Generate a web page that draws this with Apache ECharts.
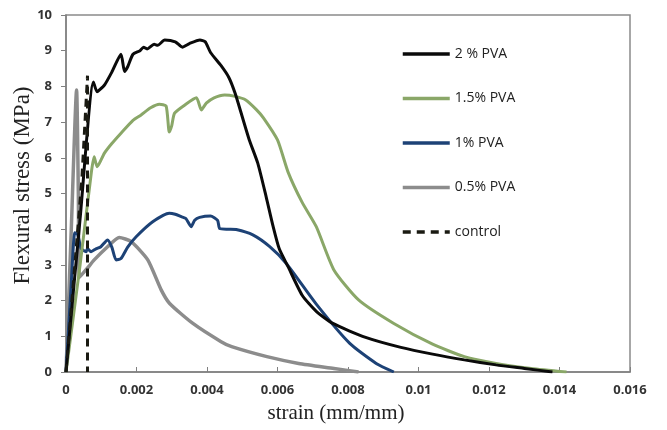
<!DOCTYPE html>
<html><head><meta charset="utf-8">
<script src="https://cdn.jsdelivr.net/npm/echarts@6/dist/echarts.min.js"></script>
<style>html,body{margin:0;padding:0;background:#fff}#c{width:667px;height:430px}</style>
</head><body><div id="c"></div>
<script>
const seriesNames = ['2 % PVA','1.5% PVA','1% PVA','0.5% PVA','control'];
const xTicks = [0,0.002,0.004,0.006,0.008,0.01,0.012,0.014,0.016];
const yTicks = [0,1,2,3,4,5,6,7,8,9,10];

const pva2 = [[0,0],[0.0004,4.3],[0.00078,8.12],[0.00088,7.85],[0.00095,7.9],[0.0011,8.05],[0.0013,8.4],[0.00156,8.9],[0.00166,8.42],[0.00175,8.55],[0.0019,8.9],[0.0021,9.0],[0.0022,9.1],[0.0023,9.05],[0.0025,9.18],[0.0026,9.15],[0.0028,9.3],[0.0031,9.25],[0.0033,9.1],[0.0035,9.2],[0.0038,9.3],[0.00395,9.25],[0.0041,8.95],[0.0044,8.58],[0.00462,8.25],[0.0048,7.8],[0.005,7.15],[0.0052,6.5],[0.00544,5.85],[0.00568,4.9],[0.00587,4.1],[0.00605,3.45],[0.0063,2.95],[0.0067,2.15],[0.0071,1.7],[0.00757,1.36],[0.0085,0.97],[0.0095,0.69],[0.0104,0.5],[0.0113,0.34],[0.0122,0.2],[0.013,0.1],[0.0138,0]];
const pva15 = [[0,0],[0.0004,3.0],[0.00072,5.6],[0.0008,6.03],[0.00088,5.75],[0.00095,5.85],[0.00109,6.13],[0.0013,6.4],[0.00156,6.69],[0.0019,7.05],[0.00213,7.2],[0.0024,7.4],[0.00265,7.5],[0.00284,7.45],[0.00293,6.72],[0.003,6.9],[0.00308,7.25],[0.0034,7.5],[0.0037,7.68],[0.00384,7.34],[0.00398,7.53],[0.0042,7.68],[0.0045,7.76],[0.0048,7.72],[0.0051,7.62],[0.0054,7.35],[0.0056,7.12],[0.006,6.5],[0.0063,5.6],[0.0067,4.75],[0.0071,4.07],[0.0076,2.86],[0.0083,2.02],[0.0093,1.36],[0.0104,0.78],[0.0113,0.43],[0.0122,0.24],[0.0132,0.1],[0.0142,0]];
const pva1 = [[0,0],[0.00015,2.5],[0.00025,3.9],[0.00033,3.85],[0.00043,3.46],[0.00057,3.37],[0.00061,3.46],[0.00071,3.37],[0.00085,3.45],[0.00099,3.51],[0.00118,3.7],[0.0013,3.5],[0.00142,3.14],[0.00156,3.18],[0.00175,3.5],[0.00199,3.79],[0.00246,4.21],[0.00293,4.45],[0.0031,4.42],[0.00327,4.35],[0.0034,4.3],[0.00355,4.07],[0.00365,4.25],[0.00379,4.33],[0.0041,4.37],[0.0043,4.25],[0.00436,4.02],[0.0046,4.0],[0.00483,3.99],[0.0053,3.84],[0.00578,3.51],[0.00625,3.04],[0.0071,1.9],[0.00805,0.8],[0.0088,0.24],[0.0093,0]];
const pva05 = [[0,0],[0.00015,4.0],[0.0003,7.9],[0.00035,5.0],[0.00038,2.65],[0.0006,2.9],[0.0008,3.14],[0.00118,3.51],[0.00151,3.77],[0.00185,3.65],[0.00232,3.14],[0.0027,2.3],[0.00294,1.92],[0.0036,1.36],[0.0044,0.85],[0.0047,0.71],[0.0057,0.43],[0.0066,0.24],[0.0076,0.1],[0.0083,0]];
const control = [[0,0],[0.00045,5.4],[0.00061,8.3],[0.00061,0]];

const colors = ['#0a0a0a','#8aa768','#1d4276','#8c8c8c','#1a1a12'];
const dataSets = [pva2,pva15,pva1,pva05,control];
const widths = [3,3,3,3.5,3];

const chart = echarts.init(document.getElementById('c'), null, {renderer:'canvas'});
const series = dataSets.map((d,i)=>({
  name: seriesNames[i], type:'line', data:d, symbol:'none', showSymbol:false,
  smooth: i===4 ? false : 0.2,
  lineStyle:{color:colors[i], width:widths[i], type: i===4 ? [8,6] : 'solid'},
  itemStyle:{color:colors[i]},
  z: i===4 ? 10 : 5-i, animation:false
}));
const order = [3,2,1,0,4];
chart.setOption({
  animation:false,
  grid:{left:66,right:37,top:15,bottom:58,show:true,borderColor:'#8a8a8a',borderWidth:1.5,outerBoundsMode:'none',containLabel:false},
  legend:{orient:'vertical',left:396,top:42,itemWidth:47,itemHeight:14,itemGap:30.5,
    data:seriesNames,
    itemStyle:{color:'transparent',borderColor:'transparent',borderWidth:0,opacity:0},
    lineStyle:{width:3.5},
    textStyle:{fontFamily:'Open Sans',fontSize:14,color:'#222'}},
  xAxis:{type:'value',min:xTicks[0],max:xTicks[xTicks.length-1],interval:0.002,
    name:'strain (mm/mm)',nameLocation:'middle',nameGap:31,nameMoveOverlap:false,
    nameTextStyle:{fontFamily:'Liberation Serif',fontSize:21,color:'#222',padding:[0,24,0,0]},
    axisLine:{lineStyle:{color:'#808080',width:1.5}},
    axisTick:{show:true,inside:true,length:5,lineStyle:{color:'#808080'}},
    splitLine:{show:false},
    axisLabel:{fontFamily:'Open Sans',fontWeight:'bold',fontSize:13,color:'#333',margin:12,
      formatter:v=>{const r=Math.round(v*1000)/1000; return String(r);}}},
  yAxis:{type:'value',min:yTicks[0],max:yTicks[yTicks.length-1],interval:1,
    name:'Flexural stress (MPa)',nameLocation:'middle',nameGap:32,nameRotate:90,nameMoveOverlap:false,
    nameTextStyle:{fontFamily:'Liberation Serif',fontSize:23,color:'#222',padding:[0,0,0,16]},
    axisLine:{show:true,lineStyle:{color:'#808080',width:1.5}},
    axisTick:{show:true,inside:false,length:5,lineStyle:{color:'#808080'}},
    splitLine:{show:false},
    axisLabel:{fontFamily:'Open Sans',fontWeight:'bold',fontSize:13,color:'#333',margin:14}},
  series: order.map(i=>series[i])
});
</script></body></html>
